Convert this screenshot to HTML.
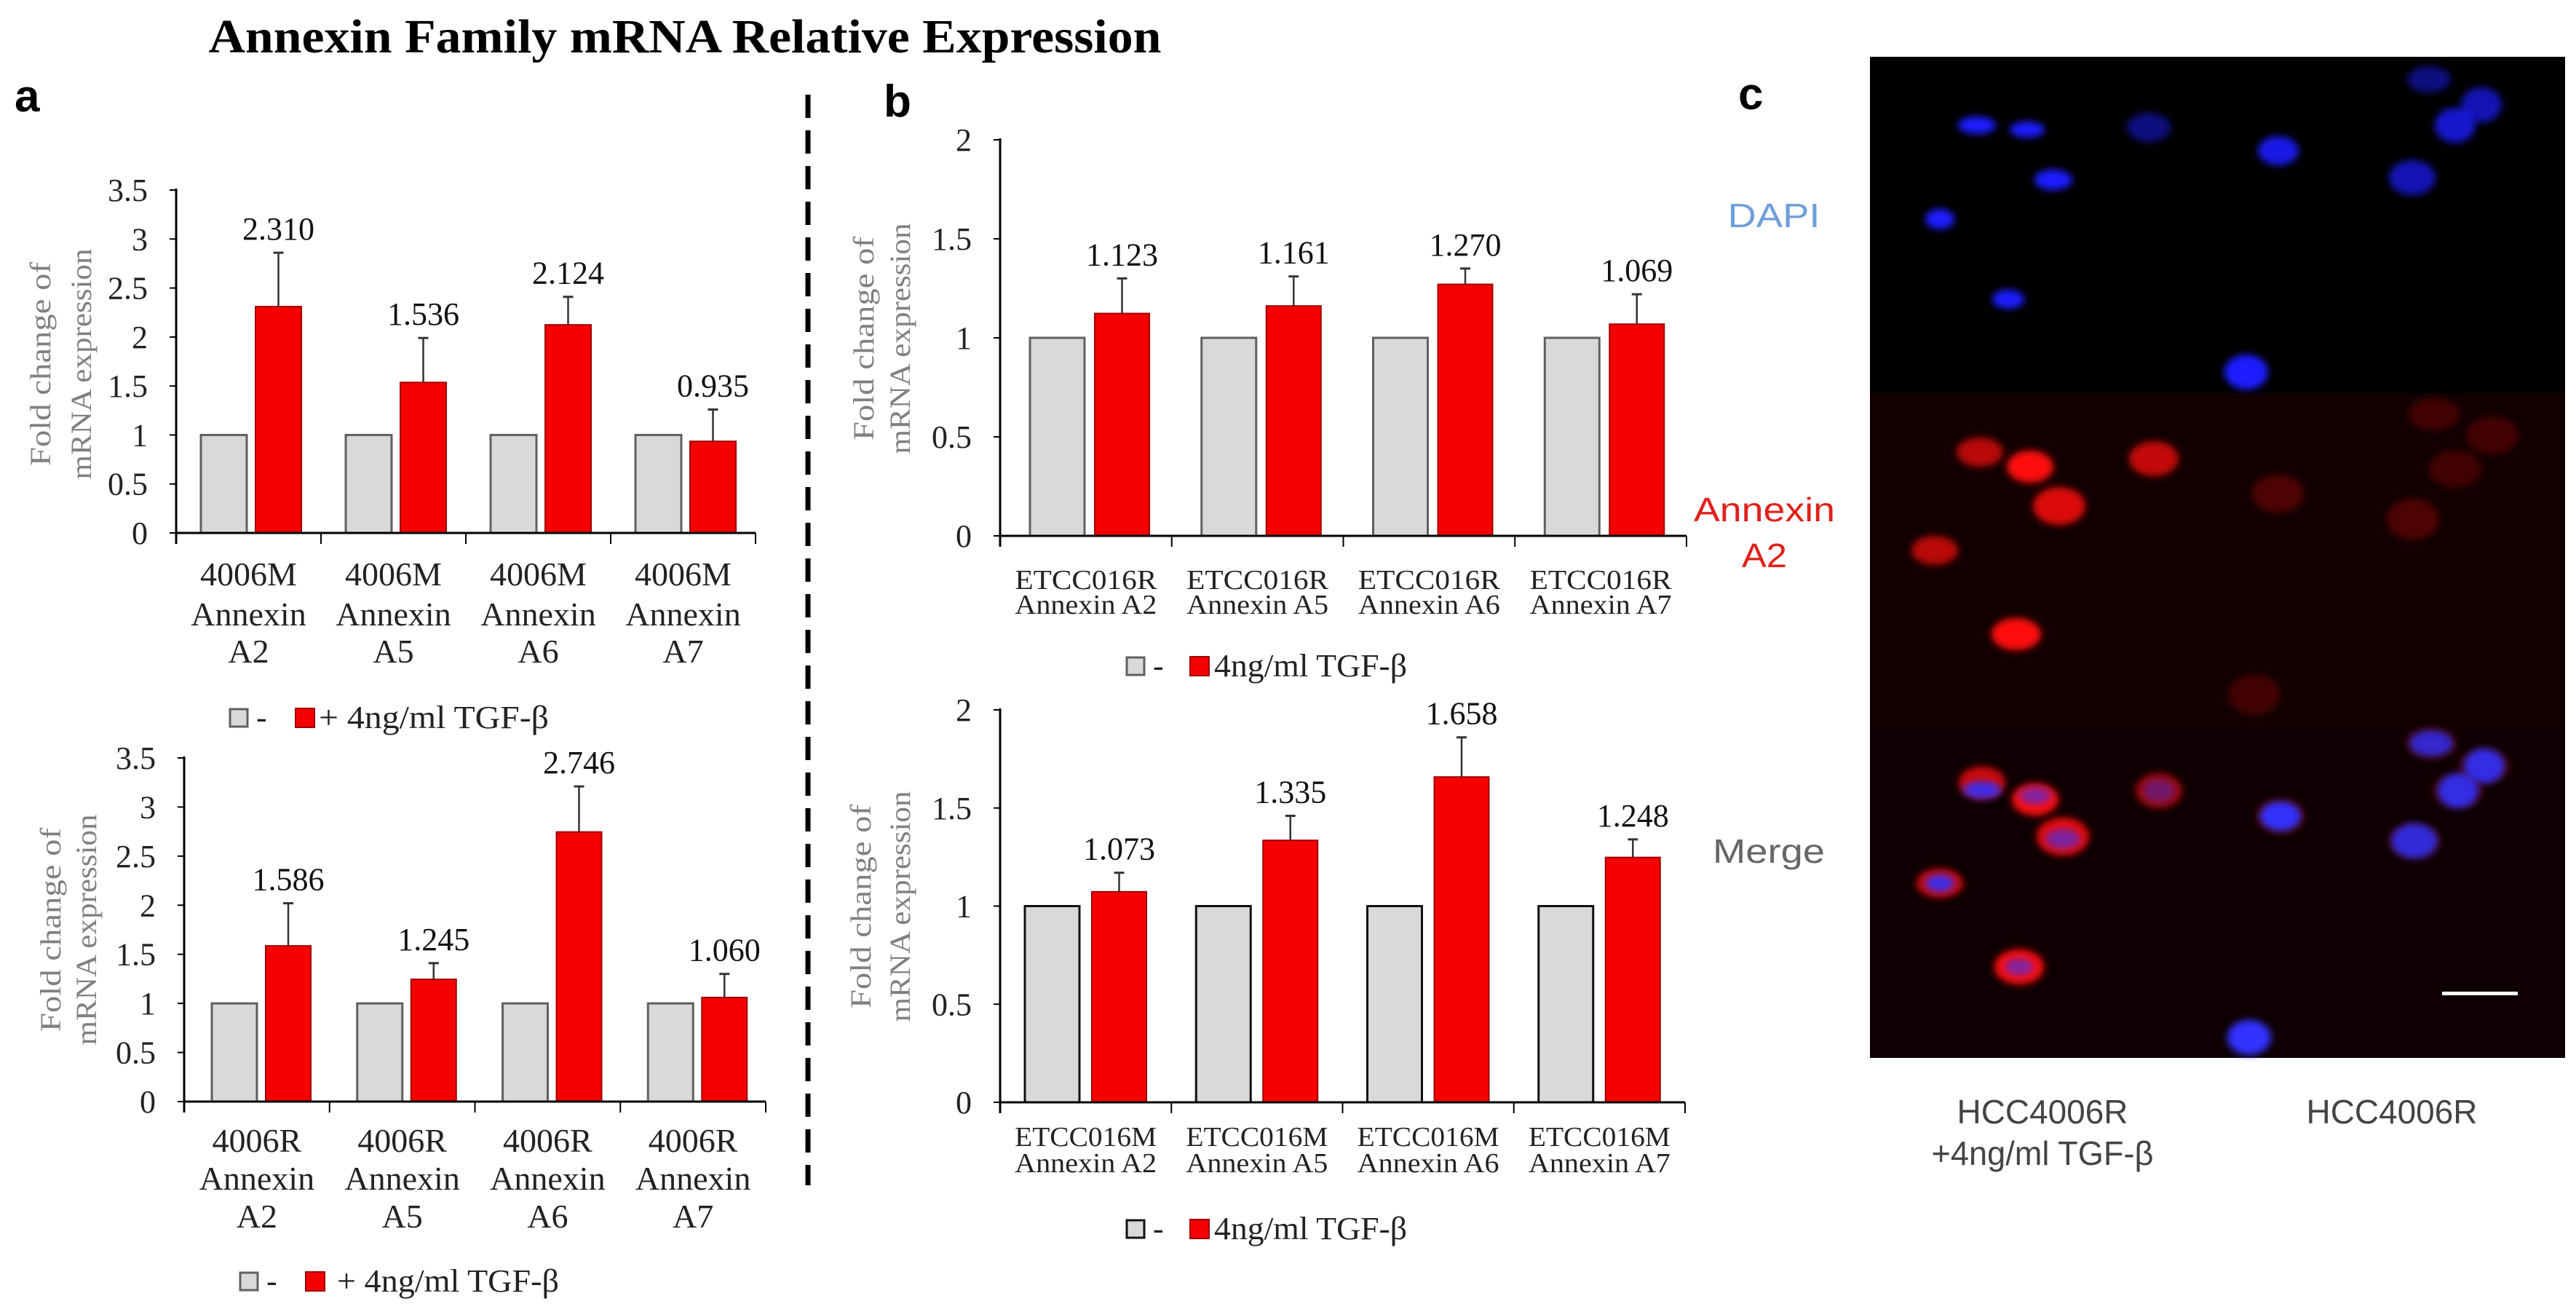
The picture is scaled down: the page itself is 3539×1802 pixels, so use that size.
<!DOCTYPE html>
<html><head><meta charset="utf-8"><style>
html,body{margin:0;padding:0;background:#fff;}
svg{display:block;}
text{font-family:"Liberation Serif",serif;}
.sans{font-family:"Liberation Sans",sans-serif;}
</style></head><body>
<svg id="fig" width="3539" height="1802" viewBox="0 0 3539 1802" xmlns="http://www.w3.org/2000/svg">
<defs>
<filter id="blur" x="-50%" y="-50%" width="200%" height="200%"><feGaussianBlur stdDeviation="5"/></filter>
<filter id="blur2" x="-50%" y="-50%" width="200%" height="200%"><feGaussianBlur stdDeviation="10"/></filter>
</defs>
<text x="941" y="72" text-anchor="middle" font-size="66" font-weight="bold" textLength="1309" lengthAdjust="spacingAndGlyphs">Annexin Family mRNA Relative Expression</text>
<text class="sans" x="20" y="153" font-size="62" font-weight="bold">a</text>
<text class="sans" x="1214" y="160" font-size="62" font-weight="bold">b</text>
<text class="sans" x="2388" y="150" font-size="62" font-weight="bold">c</text>
<line x1="1110" y1="130" x2="1110" y2="1628" stroke="#000" stroke-width="7" stroke-dasharray="32 17"/>
<g id="charts"></g>
<g id="micro"></g>
</svg>
<script>
// ---- data ----
const catsA1 = ["4006M|Annexin|A2","4006M|Annexin|A5","4006M|Annexin|A6","4006M|Annexin|A7"];
const ctrlA1 = [1,1,1,1];
const tgfA1 = [2.310,1.536,2.124,0.935];
const errA1 = [2.86,1.99,2.41,1.26];
const labA1 = ["2.310","1.536","2.124","0.935"];

const catsA2 = ["4006R|Annexin|A2","4006R|Annexin|A5","4006R|Annexin|A6","4006R|Annexin|A7"];
const ctrlA2 = [1,1,1,1];
const tgfA2 = [1.586,1.245,2.746,1.060];
const errA2 = [2.02,1.41,3.21,1.30];
const labA2 = ["1.586","1.245","2.746","1.060"];

const catsB1 = ["ETCC016R|Annexin A2","ETCC016R|Annexin A5","ETCC016R|Annexin A6","ETCC016R|Annexin A7"];
const ctrlB1 = [1,1,1,1];
const tgfB1 = [1.123,1.161,1.270,1.069];
const errB1 = [1.30,1.31,1.35,1.22];
const labB1 = ["1.123","1.161","1.270","1.069"];

const catsB2 = ["ETCC016M|Annexin A2","ETCC016M|Annexin A5","ETCC016M|Annexin A6","ETCC016M|Annexin A7"];
const ctrlB2 = [1,1,1,1];
const tgfB2 = [1.073,1.335,1.658,1.248];
const errB2 = [1.17,1.46,1.86,1.34];
const labB2 = ["1.073","1.335","1.658","1.248"];

const ticksA = ["0","0.5","1","1.5","2","2.5","3","3.5"];
const ticksB = ["0","0.5","1","1.5","2"];

const NS = "http://www.w3.org/2000/svg";
function mk(tag, attrs, parent){
  const e = document.createElementNS(NS, tag);
  for (const k in attrs) e.setAttribute(k, attrs[k]);
  parent.appendChild(e);
  return e;
}
const root = document.getElementById('charts');

function chart(cfg){
  const g = mk('g', {}, root);
  
  
  const max = parseFloat(cfg.ticks[cfg.ticks.length-1]);
  const ys = v => cfg.y0 - (v/max)*(cfg.y0-cfg.yTop);
  const catW = (cfg.xEnd - cfg.x0)/cfg.cats.length;
  const xs = i => cfg.x0 + i*catW;
  cfg.ticks.forEach(t => {
    const v = parseFloat(t);
    const tl = mk('line', {x1:cfg.x0-9, x2:cfg.x0, y1:ys(v), y2:ys(v), stroke:'#000', 'stroke-width':2}, g);
    
    
    const tx = mk('text', {x:cfg.x0-39, y:ys(v)+15, 'text-anchor':'end', 'font-size':44, fill:'#222'}, g);
    
    
    tx.textContent = t;
  });
  cfg.cats.forEach((c, i) => {
    const gx = xs(i)+cfg.gOff, rx = xs(i)+cfg.rOff;
    const gb = mk('rect', {x:gx, y:ys(cfg.ctrl[i]), width:cfg.bw, height:cfg.y0-ys(cfg.ctrl[i]), fill:'#d9d9d9', stroke:cfg.gStroke, 'stroke-width':3}, g);
    
    
    const rb = mk('rect', {x:rx, y:ys(cfg.tgf[i]), width:cfg.bw, height:cfg.y0-ys(cfg.tgf[i]), fill:'#f50000', stroke:'#a00000', 'stroke-width':2}, g);
    
    
    const cx = rx + cfg.bw/2;
    const el = mk('line', {x1:cx, x2:cx, y1:ys(cfg.tgf[i]), y2:ys(cfg.err[i]), stroke:'#333', 'stroke-width':2.5}, g);
    
    
    const ec = mk('line', {x1:cx-7, x2:cx+7, y1:ys(cfg.err[i]), y2:ys(cfg.err[i]), stroke:'#333', 'stroke-width':3}, g);
    
    
    const vl = mk('text', {x:cx, y:ys(cfg.err[i])-18, 'text-anchor':'middle', 'font-size':44, fill:'#111'}, g);
    
    
    vl.textContent = cfg.labs[i];
    const lines = c.split('|');
    lines.forEach((ln, j) => {
      const attrs = {x:xs(i)+catW/2, y:cfg.catY[j], 'text-anchor':'middle', 'font-size':cfg.catFont, fill:'#222'};
      if (cfg.catLen) { attrs.textLength = cfg.catLen; attrs.lengthAdjust = 'spacingAndGlyphs'; }
      const ct = mk('text', attrs, g);
      
      
      ct.textContent = ln;
    });
  });
  for (let i = 0; i <= cfg.cats.length; i++) {
    const xt = mk('line', {x1:xs(i), x2:xs(i), y1:cfg.y0, y2:cfg.y0+15, stroke:'#000', 'stroke-width':2}, g);
    
    
  }
  const ya = mk('line', {x1:cfg.x0, x2:cfg.x0, y1:cfg.yTop-2, y2:cfg.y0+15, stroke:'#000', 'stroke-width':3}, g);
  
  
  const xa = mk('line', {x1:cfg.x0, x2:cfg.xEnd, y1:cfg.y0, y2:cfg.y0, stroke:'#000', 'stroke-width':3}, g);
  
  
  const t1 = mk('text', {x:0, y:0, transform:`translate(${cfg.yt1},${cfg.ytY}) rotate(-90)`, 'text-anchor':'middle', 'font-size':40, fill:'#808080', textLength:280, lengthAdjust:'spacingAndGlyphs'}, g);
  
  
  t1.textContent = 'Fold change  of';
  const t2 = mk('text', {x:0, y:0, transform:`translate(${cfg.yt2},${cfg.ytY}) rotate(-90)`, 'text-anchor':'middle', 'font-size':40, fill:'#808080', textLength:317, lengthAdjust:'spacingAndGlyphs'}, g);
  
  
  t2.textContent = 'mRNA expression';
  const L = cfg.leg;
  const lg = mk('rect', {x:L.gx, y:L.y-12, width:24, height:24, fill:'#d9d9d9', stroke:cfg.gStroke, 'stroke-width':3}, g);
  
  
  const ld = mk('text', {x:L.gx+36, y:L.y+14, 'font-size':44, fill:'#222'}, g);
  
  
  ld.textContent = '-';
  const lr = mk('rect', {x:L.rx, y:L.y-13, width:26, height:26, fill:'#f50000', stroke:'#a00000', 'stroke-width':2}, g);
  
  
  const lt = mk('text', {x:L.tx, y:L.y+14, 'font-size':44, fill:'#222', textLength:L.tl, lengthAdjust:'spacingAndGlyphs'}, g);
  
  
  lt.textContent = L.text;
}

chart({name:'chart-a-4006M', cats:catsA1, ctrl:ctrlA1, tgf:tgfA1, err:errA1, labs:labA1, ticks:ticksA,
  x0:242, y0:732, yTop:261, xEnd:1038, gOff:34, rOff:109, bw:63, gStroke:'#606060',
  catY:[804,859,910], catFont:46, catLen:null, yt1:69, yt2:125, ytY:500,
  leg:{y:986, gx:316, rx:406, tx:438, tl:316, text:'+ 4ng/ml  TGF-β'}});
chart({name:'chart-a-4006R', cats:catsA2, ctrl:ctrlA2, tgf:tgfA2, err:errA2, labs:labA2, ticks:ticksA,
  x0:253, y0:1513, yTop:1041, xEnd:1052, gOff:38, rOff:112, bw:62, gStroke:'#606060',
  catY:[1582,1634,1686], catFont:46, catLen:null, yt1:83, yt2:132, ytY:1277,
  leg:{y:1760, gx:330, rx:420, tx:463, tl:305, text:'+ 4ng/ml  TGF-β'}});
chart({name:'chart-b-ETCC016R', cats:catsB1, ctrl:ctrlB1, tgf:tgfB1, err:errB1, labs:labB1, ticks:ticksB,
  x0:1374, y0:736, yTop:192, xEnd:2317, gOff:41, rOff:130, bw:75, gStroke:'#606060',
  catY:[809,843], catFont:38, catLen:195, yt1:1200, yt2:1250, ytY:465,
  leg:{y:915, gx:1548, rx:1635, tx:1668, tl:265, text:'4ng/ml  TGF-β'}});
chart({name:'chart-b-ETCC016M', cats:catsB2, ctrl:ctrlB2, tgf:tgfB2, err:errB2, labs:labB2, ticks:ticksB,
  x0:1374, y0:1514, yTop:975, xEnd:2315, gOff:34, rOff:126, bw:75, gStroke:'#111',
  catY:[1574,1610], catFont:38, catLen:195, yt1:1196, yt2:1250, ytY:1245,
  leg:{y:1688, gx:1548, rx:1635, tx:1668, tl:265, text:'4ng/ml  TGF-β'}});

// ---- microscopy panel ----
const m = document.getElementById('micro');
function r(a, nm){ const e = mk('rect', a, m);   return e; }
r({x:2569, y:78, width:955, height:464, fill:'#000'}, 'dapi-row');
r({x:2569, y:540, width:955, height:462, fill:'#120000'}, 'annexin-row');
r({x:2569, y:1000, width:955, height:453, fill:'#0e0002'}, 'merge-row');
function cell(x,y,rx,ry,fill,op,nm){
  const e = mk('ellipse', {cx:x, cy:y, rx:rx, ry:ry, fill:fill, opacity:op, filter:'url(#blur)'}, m);
  
  
}
[[2716,172,26,12,1],[2785,178,24,11,1],[2821,247,26,14,1],[2665,301,20,14,1],[2759,411,22,13,1],
 [2952,175,30,20,0.5],[3130,207,28,20,0.9],[3086,511,30,24,1],[3337,109,30,18,0.5],[3409,144,28,24,0.7],
 [3373,172,28,24,0.8],[3314,244,32,24,0.7]].forEach(c=>cell(c[0],c[1],c[2],c[3],'#1a1aff',c[4],'dapi-nucleus'));
[[2720,621,32,20,0.7],[2789,641,32,22,1],[2829,695,36,26,0.85],[2658,756,32,20,0.7],[2770,871,34,22,1],[2959,630,34,24,0.75],
 [3130,678,36,26,0.25],[3315,713,36,28,0.25],[3344,569,36,22,0.2],[3424,598,36,26,0.2],[3373,644,36,26,0.2],[3097,954,36,28,0.2]]
 .forEach(c=>cell(c[0],c[1],c[2],c[3],'#ff1010',c[4],'annexin-cell'));
[[2723,1075,32,22,0.8],[2796,1098,32,22,1],[2834,1149,36,26,0.9],[2665,1213,32,20,0.8],[2774,1328,34,24,1],[2966,1086,32,24,0.6],
 [3133,1121,34,24,0.25],[3340,1021,36,22,0.2],[3413,1052,36,24,0.2],[3377,1086,36,24,0.2],[3317,1155,36,24,0.2]]
 .forEach(c=>cell(c[0],c[1],c[2],c[3],'#ff1010',c[4],'merge-cell-red'));
[[2723,1085,26,12,0.9],[2796,1093,22,12,0.6],[2834,1152,24,14,0.6],[2665,1213,20,12,0.9],[2774,1328,20,12,0.6],[2966,1086,22,16,0.4],
 [3133,1121,28,20,1],[3340,1021,30,18,0.8],[3413,1052,28,24,0.9],[3377,1086,28,24,0.9],[3317,1155,32,24,0.85],[3090,1425,30,24,1]]
 .forEach(c=>cell(c[0],c[1],c[2],c[3],'#3030ff',c[4],'merge-cell-blue'));
r({x:3355, y:1362, width:104, height:5, fill:'#fff'}, 'scale-bar');
function lab(x,y,t,fill,len,nm){
  const e = mk('text', {x:x, y:y, 'text-anchor':'middle', 'font-size':46, fill:fill, class:'sans', textLength:len, lengthAdjust:'spacingAndGlyphs'}, m);
  
  
  e.textContent = t;
}
lab(2437,312,'DAPI','#6f9fd8',127,'row-label-dapi');
lab(2424,716,'Annexin','#e0201b',194,'row-label-annexin');
lab(2424,779,'A2','#e0201b',62,'row-label-a2');
lab(2430,1185,'Merge','#666',154,'row-label-merge');
lab(2806,1543,'HCC4006R','#444',235,'column-label-treated');
lab(2806,1600,'+4ng/ml  TGF-β','#444',305,'column-label-treatment');
lab(3286,1543,'HCC4006R','#444',235,'column-label-control');
</script>
</body></html>
